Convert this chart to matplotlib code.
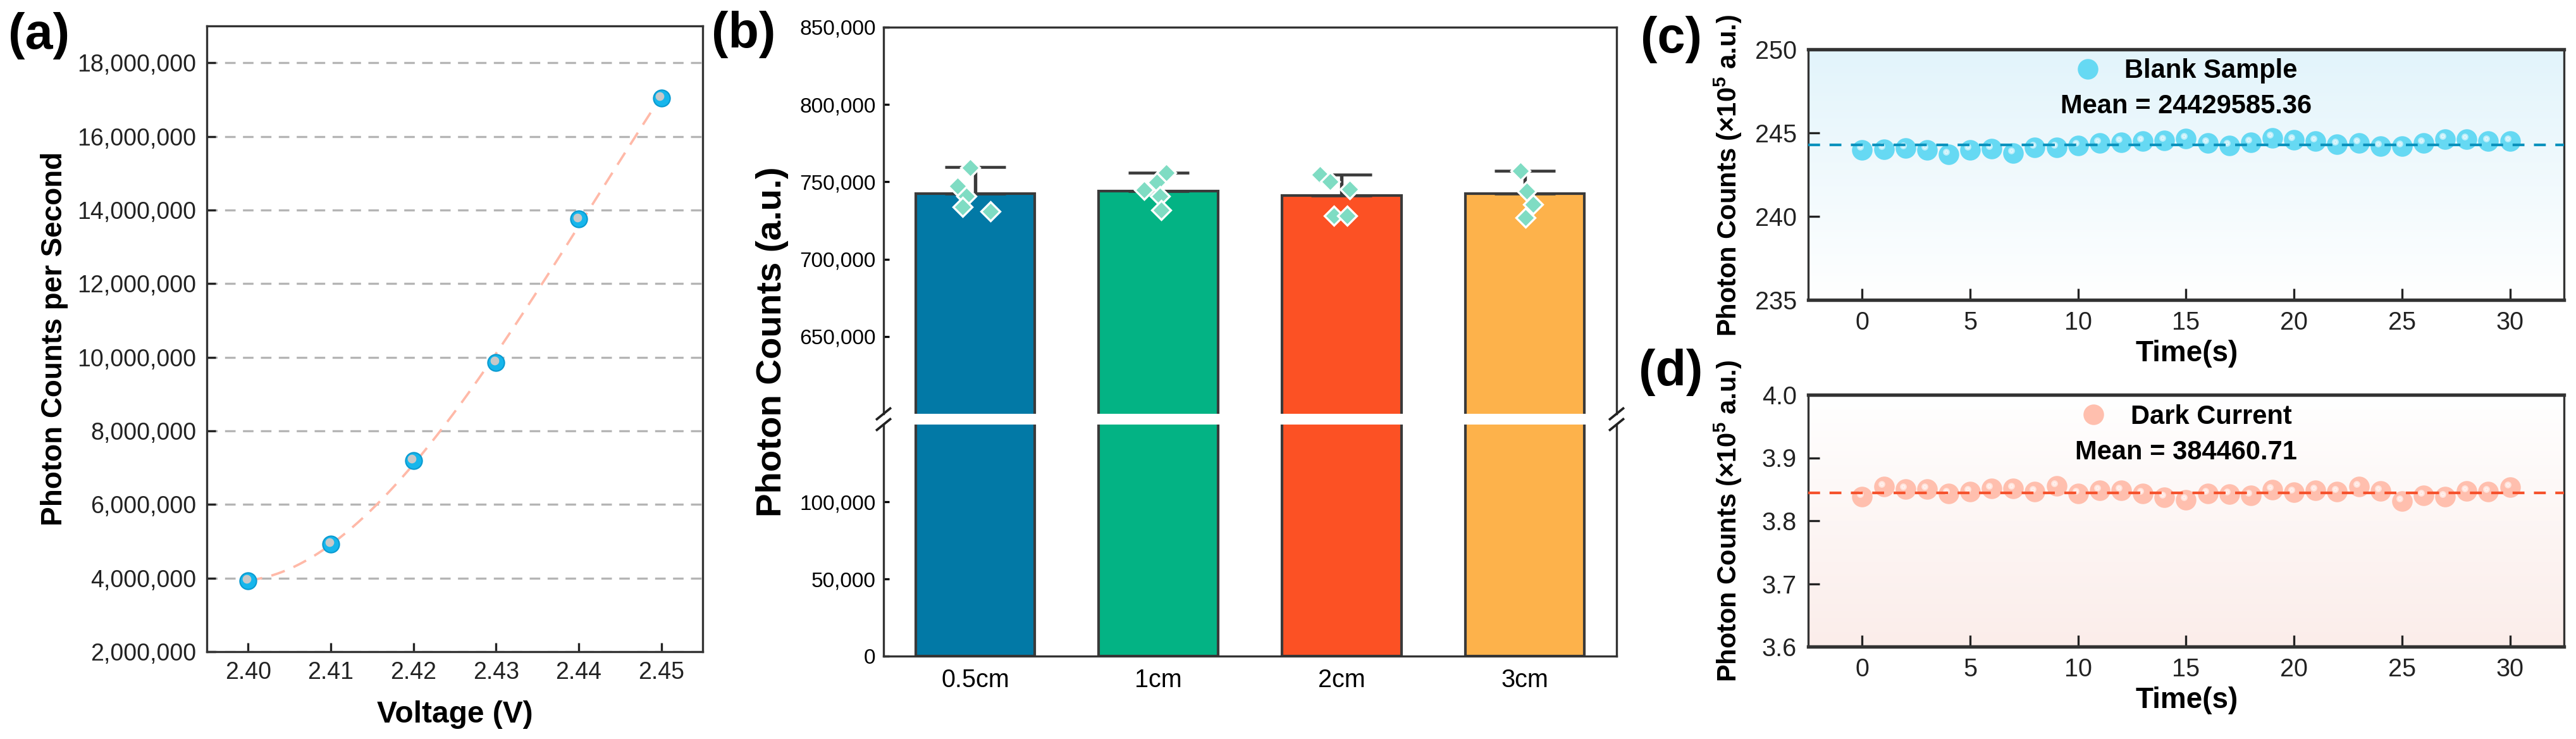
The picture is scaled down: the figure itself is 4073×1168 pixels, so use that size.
import matplotlib.pyplot as plt
import numpy as np
from matplotlib.colors import LinearSegmentedColormap
from matplotlib.ticker import FuncFormatter, FormatStrFormatter
import matplotlib.transforms as mtransforms

plt.rcParams['font.family'] = ['Liberation Sans', 'DejaVu Sans']
plt.rcParams['mathtext.fontset'] = 'custom'
plt.rcParams['mathtext.rm'] = 'Liberation Sans'
plt.rcParams['mathtext.bf'] = 'Liberation Sans:bold'

# ---- (a) photon counts vs voltage
voltage = [2.40, 2.41, 2.42, 2.43, 2.44, 2.45]
counts_per_s = [3.92e6, 4.93e6, 7.19e6, 9.86e6, 13.75e6, 17.04e6]

# ---- (b) photon counts vs distance
distances = ['0.5cm', '1cm', '2cm', '3cm']
bar_means = [742300, 744100, 741100, 742400]
bar_err_up = [17100, 11900, 13500, 14900]
repeats = [
    [759300, 747300, 740600, 734000, 731000],
    [756000, 749700, 744900, 740600, 731700],
    [754500, 750000, 745200, 727900, 727900],
    [757300, 744200, 735300, 726800],
]
repeat_jitter = [
    [-0.026, -0.095, -0.049, -0.069, 0.083],
    [0.043, -0.008, -0.077, 0.008, 0.014],
    [-0.117, -0.065, 0.045, -0.043, 0.030],
    [-0.026, 0.010, 0.046, 0.003],
]
bar_colors = ['#0279a6', '#03b384', '#fc5124', '#fdb24b']

# ---- (c)/(d) stability over time, in units of 1e5
time_s = list(range(31))
blank = [243.99, 244.03, 244.09, 243.99, 243.70, 243.99, 244.06, 243.80, 244.13, 244.13,
         244.23, 244.38, 244.45, 244.52, 244.54, 244.67, 244.38, 244.23, 244.42, 244.71,
         244.59, 244.49, 244.31, 244.38, 244.19, 244.19, 244.38, 244.64, 244.61, 244.49,
         244.49]
dark = [3.8385, 3.854, 3.850, 3.850, 3.843, 3.846, 3.851, 3.851, 3.846, 3.855,
        3.843, 3.848, 3.848, 3.843, 3.837, 3.833, 3.843, 3.842, 3.840, 3.849,
        3.845, 3.848, 3.846, 3.854, 3.847, 3.831, 3.840, 3.838, 3.847, 3.846,
        3.853]
blank_mean = 24429585.36
dark_mean = 384460.71

W, H = 4073, 1168
fig = plt.figure(figsize=(W / 300, H / 300), dpi=300)


def rect(l, t, r, b):
    return [l / W, 1 - b / H, (r - l) / W, (b - t) / H]


def ftext(x, y, s, **kw):
    fig.text(x / W, 1 - y / H, s, ha='center', va='center', **kw)


comma_fmt = FuncFormatter(lambda v, p: f'{v:,.0f}')
spine_col = '#333333'

# ================= (a)
ax = fig.add_axes(rect(327, 41, 1111, 1030))
poly = np.polynomial.Polynomial.fit(voltage, counts_per_s, 3)
xs = np.linspace(voltage[0], voltage[-1], 200)
ax.plot(xs, poly(xs), ls=(0, (6, 4)), color='#ffb9a8', lw=0.9, zorder=2)
ax.plot(voltage, counts_per_s, 'o', ms=6.3, mfc='#16b6ec', mec='#0a9ad0', mew=0.5, zorder=3)
hl = mtransforms.offset_copy(ax.transData, fig=fig, x=-0.6, y=0.7, units='points')
ax.plot(voltage, counts_per_s, 'o', ms=2.3, color='#c8c8c8', transform=hl, zorder=4)
ax.set_xlim(2.395, 2.455)
ax.set_ylim(2e6, 19e6)
ax.set_xticks(voltage)
ax.xaxis.set_major_formatter(FormatStrFormatter('%.2f'))
ax.set_yticks(np.arange(2e6, 18.1e6, 2e6))
ax.yaxis.set_major_formatter(comma_fmt)
ax.yaxis.grid(True, color='#b5b5b5', ls=(0, (5, 3.5)), lw=0.8)
ax.set_axisbelow(True)
ax.tick_params(direction='in', length=3.4, width=0.8, labelsize=9, colors='#222222')
ax.tick_params(axis='y', pad=4)
ax.tick_params(axis='x', pad=3.5)
for s in ax.spines.values():
    s.set_linewidth(0.8)
    s.set_color(spine_col)
ftext(86, 535, 'Photon Counts per Second', rotation=90, fontsize=11, fontweight='bold')
ftext(719, 1129, 'Voltage (V)', fontsize=11.5, fontweight='bold')
ftext(62, 56, '(a)', fontsize=19, fontweight='bold')

# ================= (b) broken axis
ax_t = fig.add_axes(rect(1397, 43, 2556, 654))
ax_b = fig.add_axes(rect(1397, 671, 2556, 1037))
xpos = np.arange(len(distances))
for a in (ax_t, ax_b):
    a.bar(xpos, bar_means, width=0.65, color=bar_colors, edgecolor='#3a3a3a', lw=1.0, zorder=2)
    a.set_xlim(-0.5, 3.5)
    a.yaxis.set_major_formatter(comma_fmt)
    a.tick_params(axis='y', direction='in', length=2.2, width=0.8, labelsize=8, pad=3)
    for s in a.spines.values():
        s.set_linewidth(0.8)
        s.set_color(spine_col)
ax_t.errorbar(xpos, bar_means, yerr=[np.zeros(len(xpos)), bar_err_up], fmt='none',
              ecolor='#3a3a3a', elinewidth=1.3, capsize=11.5, capthick=1.1, zorder=3)
for i, (vals, jit) in enumerate(zip(repeats, repeat_jitter)):
    ax_t.plot(xpos[i] + np.array(jit), vals, 'D', ms=5.2, mfc='#7fdcc3', mec='white',
              mew=0.8, ls='none', zorder=4)
ax_t.set_ylim(600000, 850000)
ax_t.set_yticks([650000, 700000, 750000, 800000, 850000])
ax_b.set_ylim(0, 150000)
ax_b.set_yticks([0, 50000, 100000])
ax_t.spines['bottom'].set_visible(False)
ax_b.spines['top'].set_visible(False)
ax_t.tick_params(axis='x', bottom=False, labelbottom=False)
ax_b.set_xticks(xpos)
ax_b.set_xticklabels(distances)
ax_b.tick_params(axis='x', length=0, labelsize=9.5, pad=4.5)

# break marks
dx = 10.5 / 1159
for a, hpx, yb in ((ax_t, 611, 0), (ax_b, 366, 1)):
    dy = 8.5 / hpx
    for xb in (0, 1):
        a.plot([xb - dx, xb + dx], [yb - dy, yb + dy], transform=a.transAxes,
               color='#222222', lw=0.9, clip_on=False, zorder=5)
ftext(1221, 540, 'Photon Counts (a.u.)', rotation=90, fontsize=13.5, fontweight='bold')
ftext(1176, 55, '(b)', fontsize=19, fontweight='bold')


# ================= (c) and (d)
def stability(ax, vals, mean, ylim, yticks, yfmt, mcol, lcol, gtop, gbot, label):
    cmap = LinearSegmentedColormap.from_list('g', [gtop, gbot])
    ax.imshow(np.linspace(0, 1, 256).reshape(-1, 1), cmap=cmap, extent=[0, 1, 0, 1],
              transform=ax.transAxes, aspect='auto', zorder=0)
    ax.plot(time_s, vals, 'o', ms=6.8, color=mcol, ls='none', zorder=2, label=label)
    off = mtransforms.offset_copy(ax.transData, fig=fig, x=-0.9, y=1.0, units='points')
    ax.plot(time_s, vals, 'o', ms=1.6, color='white', alpha=0.55, ls='none',
            transform=off, zorder=2.5)
    ax.axhline(mean / 1e5, color=lcol, lw=1.0, ls=(0, (4.5, 3.6)), zorder=3)
    ax.set_xlim(-2.5, 32.5)
    ax.set_ylim(*ylim)
    ax.set_xticks(range(0, 31, 5))
    ax.set_yticks(yticks)
    ax.yaxis.set_major_formatter(FormatStrFormatter(yfmt))
    ax.tick_params(direction='in', length=4.3, width=0.8, labelsize=9.5, colors='#222222')
    ax.tick_params(axis='x', pad=4)
    ax.tick_params(axis='y', pad=4.3)
    for k, s in ax.spines.items():
        s.set_color(spine_col)
        s.set_linewidth(1.3 if k in ('top', 'bottom') else 0.8)
    ax.legend(loc='center', bbox_to_anchor=(0.5, 0.913), frameon=False, handlelength=1.0,
              handletextpad=0.9, prop={'weight': 'bold', 'size': 10})
    ax.text(0.5, 0.772, f'Mean = {mean:.2f}', transform=ax.transAxes, ha='center',
            va='center', fontsize=10, fontweight='bold')


ax_c = fig.add_axes(rect(2859, 78, 4054, 474))
stability(ax_c, blank, blank_mean, (235, 250), [235, 240, 245, 250], '%d',
          '#66d9f3', '#0b92bd', '#e2f4fb', '#ffffff', 'Blank Sample')
ax_d = fig.add_axes(rect(2859, 624, 4054, 1022))
stability(ax_d, dark, dark_mean, (3.6, 4.0), [3.6, 3.7, 3.8, 3.9, 4.0], '%.1f',
          '#ffbfae', '#f5522d', '#ffffff', '#fbedea', 'Dark Current')

ylab = r'Photon Counts (×10$^{\mathbf{5}}$ a.u.)'
ftext(2732, 277, ylab, rotation=90, fontsize=10, fontweight='bold')
ftext(2732, 823, ylab, rotation=90, fontsize=10, fontweight='bold')
ftext(3458, 559, 'Time(s)', fontsize=11, fontweight='bold')
ftext(3458, 1107, 'Time(s)', fontsize=11, fontweight='bold')
ftext(2642, 62, '(c)', fontsize=19, fontweight='bold')
ftext(2642, 588, '(d)', fontsize=19, fontweight='bold')

fig.savefig('out.png', dpi=300)
